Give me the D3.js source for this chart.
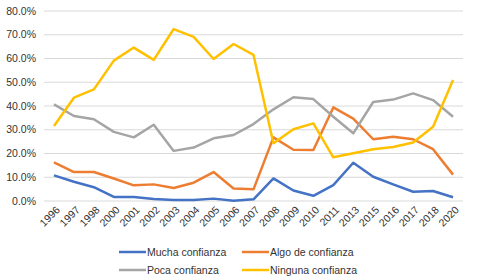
<!DOCTYPE html>
<html>
<head>
<meta charset="utf-8">
<script src="https://cdn.jsdelivr.net/npm/d3@7"></script>
<style>
    body { margin: 0; background: #fff; }
    text { font-family: "Liberation Sans", Arial, sans-serif; fill: #333; }
</style>
</head>
<body>
<div id="chart"></div>
<script>
const years = ["1996", "1997", "1998", "2000", "2001", "2002", "2003", "2004", "2005", "2006", "2007",
    "2008", "2009", "2010", "2011", "2013", "2015", "2016", "2017", "2018", "2020"];

const mucha = [10.8, 8.1, 5.8, 1.7, 1.7, 0.8, 0.4, 0.4, 1.0, 0.1, 0.7,
    9.5, 4.4, 2.2, 6.7, 16.1, 10.2, 7.0, 3.9, 4.2, 1.6];
const algo = [16.3, 12.2, 12.2, 9.5, 6.6, 7.0, 5.5, 7.7, 12.2, 5.3, 4.9,
    26.8, 21.6, 21.5, 39.4, 34.7, 26.0, 27.1, 26.0, 21.8, 11.1];
const poca = [40.7, 35.8, 34.4, 29.1, 26.8, 32.1, 21.1, 22.5, 26.4, 27.8, 32.4,
    38.6, 43.7, 42.9, 35.5, 28.5, 41.7, 42.7, 45.3, 42.5, 35.5];
const ninguna = [31.6, 43.5, 47.0, 59.1, 64.6, 59.4, 72.4, 69.1, 59.8, 66.1, 61.5,
    24.3, 30.2, 32.7, 18.4, 20.1, 21.8, 22.7, 24.6, 31.3, 50.9];

const yTicks = [0, 10, 20, 30, 40, 50, 60, 70, 80];

const seriesNames = ["Mucha confianza", "Algo de confianza", "Poca confianza", "Ninguna confianza"];
const seriesValues = [mucha, algo, poca, ninguna];
const colors = ["#4472C4", "#ED7D31", "#A5A5A5", "#FFC000"];

render();

function render() {
    const width = 477, height = 279;
    const margin = { top: 11, right: 14, bottom: 78, left: 44 };

    const svg = d3.select('#chart').append('svg')
        .attr('width', width)
        .attr('height', height);

    const x = d3.scaleBand()
        .domain(years)
        .range([margin.left, width - margin.right]);

    const y = d3.scaleLinear()
        .domain([0, 80])
        .range([height - margin.bottom, margin.top]);

    // gridlines
    svg.append('g')
        .selectAll('line')
        .data(yTicks)
        .join('line')
        .attr('x1', margin.left)
        .attr('x2', width - margin.right)
        .attr('y1', d => y(d))
        .attr('y2', d => y(d))
        .attr('stroke', '#d9d9d9')
        .attr('stroke-width', 1);

    // y labels
    svg.append('g')
        .selectAll('text')
        .data(yTicks)
        .join('text')
        .attr('x', 36)
        .attr('y', d => y(d))
        .attr('dy', '0.35em')
        .attr('text-anchor', 'end')
        .style('font-size', '10.5px')
        .text(d => d.toFixed(1) + '%');

    // x labels
    svg.append('g')
        .selectAll('text')
        .data(years)
        .join('text')
        .attr('transform', d => `translate(${x(d) + x.bandwidth() / 2 + 4},${y(0) + 7}) rotate(-45)`)
        .attr('text-anchor', 'end')
        .attr('dy', '0.35em')
        .style('font-size', '10.5px')
        .text(d => d);

    const line = d3.line()
        .x((d, i) => x(years[i]) + x.bandwidth() / 2)
        .y(d => y(d));

    svg.append('g')
        .selectAll('path')
        .data(seriesValues)
        .join('path')
        .attr('d', line)
        .attr('fill', 'none')
        .attr('stroke', (d, i) => colors[i])
        .attr('stroke-width', 2.5)
        .attr('stroke-linejoin', 'round');

    // legend
    const legend = svg.append('g')
        .selectAll('g')
        .data(seriesNames)
        .join('g')
        .attr('transform', (d, i) => `translate(${i % 2 === 0 ? 119 : 242},${i < 2 ? 252 : 270})`);

    legend.append('line')
        .attr('x1', 0)
        .attr('x2', 27)
        .attr('stroke', (d, i) => colors[i])
        .attr('stroke-width', 2.5);

    legend.append('text')
        .attr('x', 28)
        .attr('dy', '0.35em')
        .style('font-size', '10.5px')
        .text(d => d);
}
</script>
</body>
</html>
